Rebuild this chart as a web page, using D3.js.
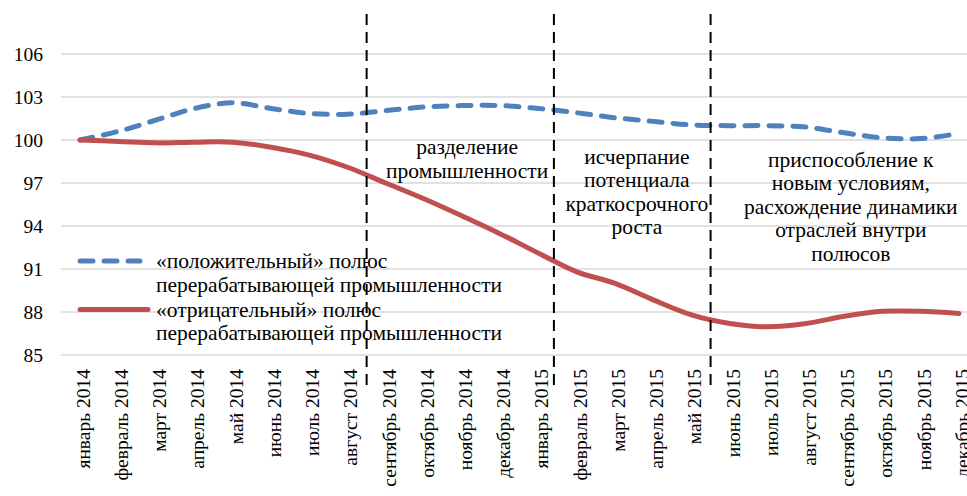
<!DOCTYPE html>
<html>
<head>
<meta charset="utf-8">
<script src="https://cdn.jsdelivr.net/npm/d3@7"></script>
<style>
  body { margin: 0; background: #fff; }
</style>
</head>
<body>
<div id="chart"></div>
<script>
const months = ["январь 2014", "февраль 2014", "март 2014", "апрель 2014", "май 2014", "июнь 2014",
  "июль 2014", "август 2014", "сентябрь 2014", "октябрь 2014", "ноябрь 2014", "декабрь 2014",
  "январь 2015", "февраль 2015", "март 2015", "апрель 2015", "май 2015", "июнь 2015",
  "июль 2015", "август 2015", "сентябрь 2015", "октябрь 2015", "ноябрь 2015", "декабрь 2015"];

const positivePole = [100.0, 100.6, 101.4, 102.2, 102.6, 102.2, 101.85, 101.8, 102.05, 102.3, 102.4, 102.4,
  102.2, 101.9, 101.55, 101.3, 101.05, 101.0, 101.0, 100.9, 100.5, 100.15, 100.1, 100.45];
const negativePole = [100.0, 99.9, 99.8, 99.85, 99.85, 99.5, 98.95, 98.1, 97.0, 95.9, 94.7, 93.45,
  92.1, 90.8, 90.0, 88.85, 87.8, 87.2, 86.97, 87.2, 87.7, 88.05, 88.05, 87.9];

const yTicks = [85, 88, 91, 94, 97, 100, 103, 106];

// phase boundaries, as positions between category indices
const dividers = [7.5, 12.4, 16.5];
const phases = [
  { at: 10.13, top: 154, lines: ["разделение", "промышленности"] },
  { at: 14.57, top: 163.5, lines: ["исчерпание", "потенциала", "краткосрочного", "роста"] },
  { at: 20.17, top: 166.5, lines: ["приспособление к", "новым условиям,", "расхождение динамики", "отраслей внутри", "полюсов"] }
];
const legendItems = [
  { lines: ["«положительный» полюс", "перерабатывающей промышленности"], color: "#4F81BD", dash: "13,11" },
  { lines: ["«отрицательный» полюс", "перерабатывающей промышленности"], color: "#C0504D", dash: null }
];

const FONT = "'Liberation Serif', 'Times New Roman', 'DejaVu Serif', serif";
const width = 967, height = 496;
const svg = d3.select("#chart").append("svg")
  .attr("width", width).attr("height", height)
  .attr("font-family", FONT);

const x = d3.scalePoint().domain(months).range([80, 959]);
const idx = d3.scaleLinear().domain([0, months.length - 1]).range([80, 959]);
const y = d3.scaleLinear().domain([85, 106]).range([355, 54]);

// grid
svg.append("g").selectAll("line")
  .data(yTicks).enter().append("line")
  .attr("x1", 61).attr("x2", width)
  .attr("y1", d => y(d)).attr("y2", d => y(d))
  .attr("stroke", "#d9d9d9").attr("stroke-width", 1.5);

svg.append("g").selectAll("text")
  .data(yTicks).enter().append("text")
  .attr("x", 43).attr("y", d => y(d))
  .attr("dy", "0.35em")
  .attr("text-anchor", "end")
  .style("font-family", FONT)
  .style("font-size", "19.5px")
  .text(d => d);

// x labels
svg.append("g").selectAll("text")
  .data(months).enter().append("text")
  .attr("transform", d => "translate(" + (x(d) + 3) + ",369) rotate(-90)")
  .attr("dy", "0.35em")
  .attr("text-anchor", "end")
  .style("font-family", FONT)
  .style("font-size", "19.5px")
  .text(d => d);

// lines
const line = d3.line()
  .x((d, i) => x(months[i]))
  .y(d => y(d))
  .curve(d3.curveCatmullRom.alpha(0.5));

svg.append("path")
  .datum(positivePole)
  .attr("d", line)
  .attr("fill", "none")
  .attr("stroke", "#4F81BD")
  .attr("stroke-width", 5)
  .attr("stroke-linecap", "round")
  .attr("stroke-dasharray", "13,11");

svg.append("path")
  .datum(negativePole)
  .attr("d", line)
  .attr("fill", "none")
  .attr("stroke", "#C0504D")
  .attr("stroke-width", 5)
  .attr("stroke-linecap", "round");

// phase dividers
svg.append("g").selectAll("line")
  .data(dividers).enter().append("line")
  .attr("x1", d => idx(d)).attr("x2", d => idx(d))
  .attr("y1", 14).attr("y2", 386)
  .attr("stroke", "#000").attr("stroke-width", 2)
  .attr("stroke-dasharray", "11,7");

// phase annotations
phases.forEach(p => {
  const t = svg.append("text")
    .attr("text-anchor", "middle")
    .style("font-family", FONT)
    .style("font-size", "21.5px");
  p.lines.forEach((s, j) => {
    t.append("tspan")
      .attr("x", idx(p.at))
      .attr("y", p.top + j * 23.5)
      .text(s);
  });
});

// legend
legendItems.forEach((item, k) => {
  const ly = 261 + k * 48.5;
  svg.append("line")
    .attr("x1", 80).attr("x2", item.dash ? 140 : 148)
    .attr("y1", ly).attr("y2", ly)
    .attr("stroke", item.color)
    .attr("stroke-width", 5)
    .attr("stroke-linecap", "round")
    .attr("stroke-dasharray", item.dash);
  const t = svg.append("text")
    .style("font-family", FONT)
    .style("font-size", "21.5px");
  item.lines.forEach((s, j) => {
    t.append("tspan")
      .attr("x", 156)
      .attr("y", ly + 7 + j * 23.5)
      .text(s);
  });
});
</script>
</body>
</html>
